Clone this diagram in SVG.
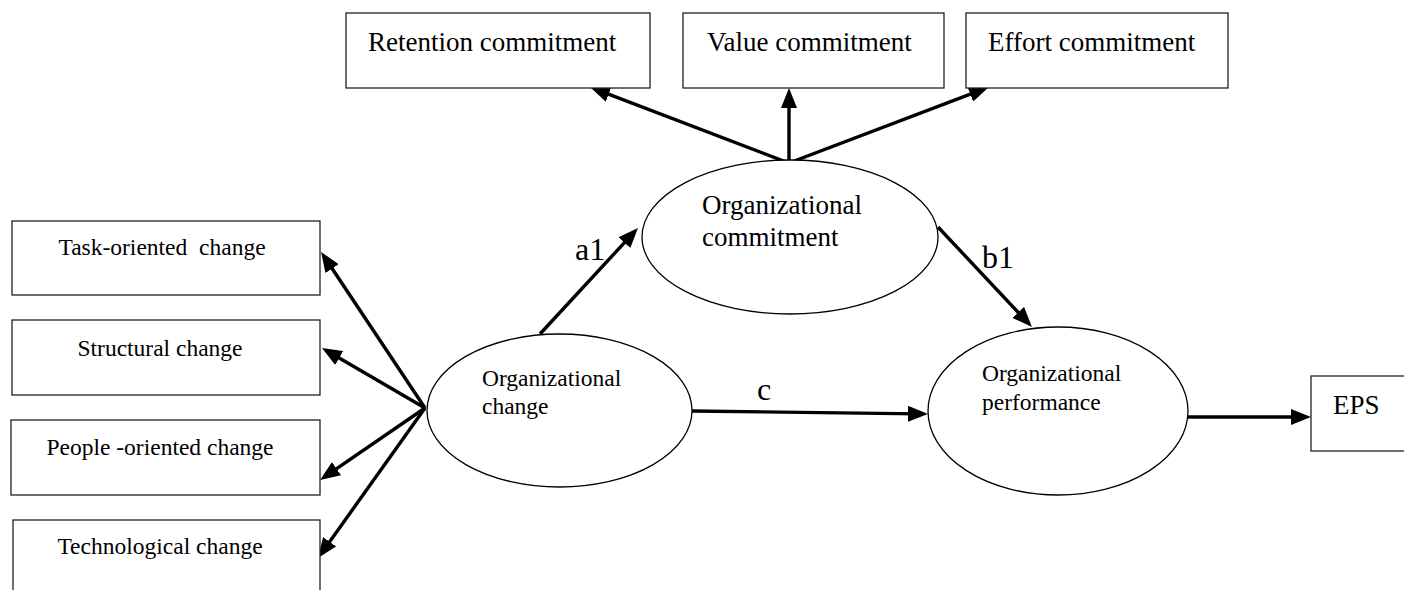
<svg xmlns="http://www.w3.org/2000/svg" width="1404" height="590" viewBox="0 0 1404 590">
<style>
.box{fill:#fff;stroke:#222;stroke-width:1.3}
.ell{fill:#fff;stroke:#000;stroke-width:1.3}
.t{font-family:"Liberation Serif","Times New Roman",serif;fill:#000}
.big{font-size:27px}
.sm{font-size:23.5px}
.lbl{font-size:32px}
.arr{stroke:#000;stroke-width:3.4;fill:none;marker-end:url(#ah)}
</style>
<defs>
<marker id="ah" markerUnits="userSpaceOnUse" markerWidth="20" markerHeight="16" refX="10" refY="8" orient="auto" viewBox="0 0 20 16">
<path d="M0,0 L20,8 L0,16 z" fill="#000"/>
</marker>
</defs>
<rect width="1404" height="590" fill="#fff"/>
<g id="connectors">
<line class="arr" x1="789" y1="163" x2="599.3" y2="90.6"/>
<line class="arr" x1="789" y1="163" x2="789" y2="98"/>
<line class="arr" x1="789" y1="163" x2="979.6" y2="90.6"/>
<line class="arr" x1="540" y1="334" x2="631.2" y2="235.3"/>
<line class="arr" x1="938" y1="227" x2="1025.1" y2="319.7"/>
<line class="arr" x1="692" y1="411" x2="918" y2="413.9"/>
<line class="arr" x1="1188" y1="417" x2="1301" y2="417"/>
<line class="arr" x1="425" y1="408" x2="326.6" y2="260.3"/>
<line class="arr" x1="425" y1="408" x2="330.6" y2="353"/>
<line class="arr" x1="425" y1="408" x2="328.3" y2="474.3"/>
<line class="arr" x1="425" y1="408" x2="323.8" y2="549.9"/>
</g>
<g id="retention">
<rect class="box" x="346" y="13" width="304" height="75"/>
<text class="t big" x="368" y="51">Retention commitment</text>
</g>
<g id="value">
<rect class="box" x="683" y="13" width="261" height="75"/>
<text class="t big" x="707" y="51">Value commitment</text>
</g>
<g id="effort">
<rect class="box" x="966" y="13" width="262" height="75"/>
<text class="t big" x="988" y="51">Effort commitment</text>
</g>
<g id="task">
<rect class="box" x="12" y="221" width="308" height="74"/>
<text class="t sm" x="162" y="255" text-anchor="middle" xml:space="preserve">Task-oriented  change</text>
</g>
<g id="structural">
<rect class="box" x="12" y="320" width="308" height="75"/>
<text class="t sm" x="160" y="356" text-anchor="middle">Structural change</text>
</g>
<g id="people">
<rect class="box" x="11" y="420" width="309" height="75"/>
<text class="t sm" x="160" y="455" text-anchor="middle">People -oriented change</text>
</g>
<g id="technological">
<rect class="box" x="13" y="520" width="307" height="90"/>
<text class="t sm" x="160" y="554" text-anchor="middle">Technological change</text>
</g>
<g id="commitment">
<ellipse class="ell" cx="790" cy="237" rx="148" ry="77"/>
<text class="t big" x="702" y="214">Organizational</text>
<text class="t big" x="702" y="246">commitment</text>
</g>
<g id="change">
<ellipse class="ell" cx="559.5" cy="410.5" rx="132.5" ry="76.5"/>
<text class="t sm" x="482" y="386">Organizational</text>
<text class="t sm" x="482" y="414">change</text>
</g>
<g id="performance">
<ellipse class="ell" cx="1058" cy="411" rx="130" ry="84"/>
<text class="t sm" x="982" y="381">Organizational</text>
<text class="t sm" x="982" y="410">performance</text>
</g>
<g id="eps">
<rect class="box" x="1311" y="376" width="110" height="75"/>
<text class="t big" x="1333" y="414">EPS</text>
</g>
<g id="labels">
<text class="t lbl" x="575" y="260">a1</text>
<text class="t lbl" x="982" y="268">b1</text>
<text class="t lbl" x="757" y="400">c</text>
</g>
</svg>
